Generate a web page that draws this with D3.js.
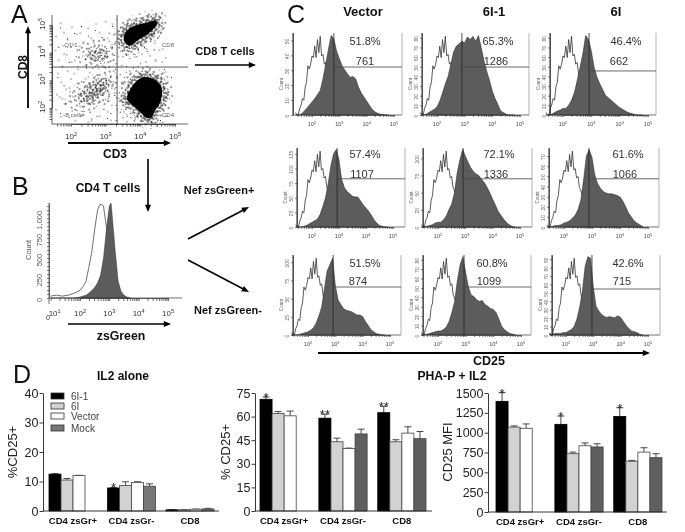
<!DOCTYPE html>
<html><head><meta charset="utf-8">
<script src="https://cdn.jsdelivr.net/npm/d3@7"></script>
<style>html,body{margin:0;padding:0;background:#fff}svg{display:block;filter:blur(0.35px)}text{font-family:"Liberation Sans",Arial,sans-serif}</style>
</head><body><svg id="c" width="685" height="532"></svg>
<script>
// ---------- Panel A: flow cytometry, log10 CD3 / log10 CD8 ----------
const cd8Blob=[[3.55,4.68],[3.65,4.84],[3.82,4.96],[4.18,5.08],[4.44,5.16],[4.48,5.04],[4.26,4.72],[3.94,4.46],[3.68,4.26],[3.54,4.4]];
const cd4Blob=[[4.09,3.12],[4.42,3.02],[4.62,2.71],[4.57,2.2],[4.42,1.9],[4.32,1.66],[4.18,1.64],[4.04,1.8],[3.82,2.05],[3.62,2.32],[3.7,2.65],[3.88,2.96]];
const backgroundRegion=[[1.5,5.2],[3.33,5.2],[4.6,5.3],[4.75,4.4],[4.8,3.5],[4.9,1.45],[1.5,1.45]];
const q1Outer=[[2.1,3.9],[2.4,4.4],[3.0,4.5],[3.3,4.1],[3.2,3.5],[2.5,3.45]];
const q1Core=[[2.45,3.9],[2.7,4.15],[3.0,4.1],[3.05,3.8],[2.7,3.65]];
const bOuter=[[1.8,2.1],[2.4,1.85],[3.0,2.1],[3.33,2.8],[3.2,3.4],[2.6,3.2],[2.05,2.75]];
const bCore=[[2.2,2.3],[2.6,2.15],[2.95,2.5],[3.15,3.0],[2.85,3.1],[2.4,2.75]];
const bInner=[[2.45,2.4],[2.7,2.4],[2.95,2.72],[2.9,2.95],[2.65,2.75]];
const sparseCells=[[1.7,4.9],[1.9,4.5],[2.1,4.7],[2.3,4.95],[2.5,4.6],[2.7,4.8],[2.9,4.55],[3.1,4.7],[3.2,4.95],[3.3,4.4],[1.65,4.2],[1.8,3.95],[2.0,4.2],[2.15,3.85],[2.25,4.1],[2.35,4.35],[2.42,3.75],[2.5,4.05],[2.55,3.65],[2.58,4.2],[2.62,3.9],[2.66,4.35],[2.7,4.05],[2.72,3.72],[2.75,3.95],[2.78,4.2],[2.8,3.8],[2.83,4.02],[2.86,3.62],[2.88,3.9],[2.9,4.25],[2.93,4.08],[2.96,3.78],[2.98,3.98],[3.02,4.15],[3.05,3.85],[3.1,4.05],[3.15,3.7],[3.2,4.2],[3.25,3.9],[3.3,3.6],[1.75,3.5],[1.95,3.65],[2.2,3.5],[2.45,3.45],[2.7,3.5],[3.0,3.45],[3.28,3.4],
[1.62,3.1],[1.8,2.8],[1.68,2.4],[1.85,2.15],[1.7,1.8],[1.95,1.65],[2.0,3.05],[2.05,2.55],[2.1,2.3],[2.12,1.95],[2.18,2.75],[2.22,2.5],[2.25,2.15],[2.28,1.7],[2.3,2.95],[2.33,2.62],[2.36,2.35],[2.38,2.05],[2.42,2.8],[2.44,2.52],[2.46,2.25],[2.48,2.68],[2.5,2.4],[2.52,2.9],[2.54,2.58],[2.56,2.12],[2.58,2.78],[2.6,2.46],[2.62,2.65],[2.64,2.3],[2.66,2.92],[2.68,2.55],[2.7,2.75],[2.72,2.4],[2.74,2.62],[2.76,2.9],[2.78,2.5],[2.8,2.72],[2.82,2.25],[2.84,2.6],[2.86,2.82],[2.88,3.05],[2.9,2.45],[2.92,2.68],[2.94,2.92],[2.96,2.55],[2.98,2.78],[3.0,2.3],[3.02,3.0],[3.05,2.65],[3.08,2.85],[3.1,2.5],[3.14,3.1],[3.18,2.72],[3.22,2.95],[3.26,2.45],[3.3,2.75],[3.32,3.15],[2.35,1.75],[2.55,1.85],[2.75,1.7],[2.95,1.95],[3.15,1.8],[3.3,2.1],[2.6,1.6],[3.05,1.62],
[3.42,4.9],[3.46,4.6],[3.4,4.3],[3.44,4.05],[3.5,3.85],[3.55,4.1],[3.6,3.9],[3.65,4.05],[3.7,3.8],[3.75,4.2],[3.8,3.95],[3.85,4.15],[3.9,3.85],[3.95,4.1],[4.0,4.3],[4.05,3.95],[4.12,4.2],[4.2,4.05],[4.3,4.4],[4.4,4.1],[4.55,4.6],[4.65,4.85],[3.6,3.5],[3.8,3.45],[4.0,3.6],[4.2,3.5],[4.45,3.7],[4.7,3.4],[4.9,3.1],
[3.42,3.2],[3.46,2.9],[3.4,2.55],[3.48,2.2],[3.42,1.85],[3.5,1.65],[3.55,3.1],[3.58,1.95],[3.62,1.7],[3.7,3.2],[3.72,1.8],[3.85,1.6],[3.95,3.3],[4.75,2.4],[4.8,2.0],[4.72,1.7],[4.58,1.55],[4.45,1.48],[3.3,1.55],[3.38,2.35]];
const axisLabelsA=["Q1-1","CD8","B cells","CD4"];
// stipple tiles (hand-placed dot offsets inside one tile)
const tileDense=[[1,2],[4,1],[7,3],[10,1],[13,2],[16,0],[18,3],[2,5],[5,6],[8,5],[11,7],[14,5],[17,6],[0,8],[3,9],[6,8],[9,10],[12,9],[15,8],[19,9],[1,12],[4,11],[7,13],[10,12],[13,11],[16,13],[18,11],[2,15],[5,14],[8,16],[11,15],[14,14],[17,16],[0,18],[3,17],[6,19],[9,18],[12,17],[15,19],[19,17]];
const tileMedium=[[2,1],[9,3],[15,2],[5,6],[12,7],[18,6],[1,10],[8,11],[14,12],[4,15],[11,16],[17,15],[7,19],[0,17],[19,11]];
const tileSparse=[[3,2],[15,5],[24,1],[8,11],[20,13],[1,17],[13,20],[26,19],[6,25],[18,26]];

// ---------- Panel B: zsGreen histograms ----------
const bLog=[1.0,1.2,1.4,1.6,1.8,2.0,2.1,2.2,2.3,2.4,2.5,2.6,2.7,2.8,2.9,3.0,3.06,3.1,3.2,3.3,3.4,3.5,3.6,3.7];
const bOpen=[.02,.03,.02,.03,.05,.08,.12,.17,.32,.48,.72,.93,.99,.97,.75,.5,.4,.3,.15,.06,.02,.01,0,0];
const bFilled=[0,0,0,0,0,.01,.02,.03,.05,.08,.11,.16,.24,.42,.72,.97,1,.86,.5,.18,.07,.03,.01,0];
const bTicks=[0,250,500,750,1000];

// ---------- Panel C: CD25 histograms ----------
const histLog=[1.4,1.5,1.6,1.7,1.8,1.9,2.0,2.1,2.2,2.3,2.4,2.5,2.6,2.7,2.8,2.9,3.0,3.1,3.2,3.3,3.4,3.5,3.6,3.7,3.8,3.9,4.0,4.1,4.2,4.3,4.4,4.5,4.6,4.7,4.8];
const isoLog=[1.4,1.45,1.5,1.55,1.6,1.65,1.7,1.75,1.8,1.85,1.9,1.95,2.0,2.05,2.1,2.15,2.2,2.25,2.3,2.35,2.4,2.45,2.5,2.55,2.6,2.7,2.8,2.9,3.0,3.1,3.2,3.3];
const isoCurve=[.03,0,0,.08,.12,.2,.18,.34,.4,.6,.56,.62,.72,.7,.84,.7,.92,.76,.96,.72,.74,.62,.64,.5,.46,.36,.26,.17,.1,.05,.02,0];
const histFilled=[
 [0,0,.01,.04,.08,.12,.16,.2,.25,.3,.44,.62,.8,.97,.93,.78,.69,.6,.55,.5,.46,.47,.44,.34,.27,.22,.17,.12,.07,.04,.02,.01,.005],
 [0,0,.01,.03,.05,.07,.1,.17,.27,.38,.47,.62,.77,.84,.87,.9,.88,.95,.92,.96,.9,.97,.82,.66,.53,.42,.29,.2,.13,.05,.03,.01],
 [0,0,.01,.03,.05,.06,.08,.08,.12,.18,.27,.42,.58,.75,.97,.92,.78,.58,.46,.38,.31,.24,.21,.18,.15,.12,.09,.07,.05,.03,.02,.01],
 [0,0,0,.01,.02,.04,.06,.08,.1,.16,.26,.37,.55,.78,.93,.98,.85,.6,.5,.45,.42,.39,.38,.38,.33,.28,.24,.2,.15,.09,.05,.02,.01],
 [0,0,.01,.02,.03,.05,.06,.06,.09,.14,.22,.29,.43,.68,.85,.98,.9,.82,.75,.7,.67,.65,.6,.56,.5,.43,.35,.28,.2,.15,.1,.06,.03,.01],
 [0,0,.01,.02,.02,.03,.05,.06,.08,.11,.15,.22,.34,.6,.9,.98,.88,.66,.55,.49,.45,.43,.42,.42,.41,.4,.38,.33,.26,.18,.13,.08,.05,.03,.01],
 [0,0,0,.01,.02,.03,.04,.06,.09,.15,.24,.35,.58,.8,.88,.96,.62,.44,.38,.33,.31,.3,.29,.27,.25,.25,.23,.17,.12,.07,.04,.02,.01],
 [0,0,.01,.02,.03,.04,.05,.05,.07,.1,.17,.28,.42,.68,.88,.98,.78,.6,.5,.48,.44,.42,.43,.38,.36,.33,.32,.28,.2,.11,.07,.04,.02,.01],
 [.01,.01,.02,.02,.02,.03,.03,.05,.07,.11,.2,.35,.55,.86,.98,.96,.6,.36,.3,.26,.23,.22,.23,.22,.22,.24,.22,.17,.12,.08,.05,.04,.03,.01]];
const percents=["51.8%","65.3%","46.4%","57.4%","72.1%","61.6%","51.5%","60.8%","42.6%"];
const mfis=["761","1286","662","1107","1336","1066","874","1099","715"];
const gateLog=[2.80,2.90,2.92,2.93,2.92,2.89,2.92,2.94,2.95];
const gateHeight=[.585,.585,.537,.61,.61,.61,.6,.6,.575];
const countMax=[55,85,85,135,115,78,110,85,95];
const countTicks=[[0,10,20,30,40,50],[0,10,20,30,40,50,60,70,80],[0,10,20,30,40,50,60,70,80],[0,25,50,75,100,125],[0,25,50,75,100],[0,10,20,30,40,50,60,70],[0,25,50,75,100],[0,10,20,30,40,50,60,70,80],[0,10,20,30,40,50,60,70,80,90]];
const columnTitles=["Vector","6I-1","6I"];

// ---------- Panel D: bars ----------
const groups=["CD4 zsGr+","CD4 zsGr-","CD8"];
const treatments=["6I-1","6I","Vector","Mock"];
const il2Values=[[12.5,10.5,12,null],[7.8,8.6,9.7,8.4],[.4,.4,.6,.7]];
const il2Errors=[[.15,.5,.1,0],[.2,1.3,.2,.8],[.05,.05,.05,.2]];
const phaValues=[[71,62,60.5,null],[59,44,39.7,49],[62.5,44,49.5,46]];
const phaErrors=[[1.5,1.2,3,0],[2.5,2.3,.3,3],[4,1.3,4,4.5]];
const mfiValues=[[1395,1070,1055,null],[1105,735,835,820],[1205,640,755,685]];
const mfiErrors=[[110,15,55,0],[105,20,35,40],[110,10,55,50]];
const il2Stars=["","*",""], phaStars=["*","**","**"], mfiStars=["*","*","*"];
const il2Ticks=[0,10,20,30,40], phaTicks=[0,15,30,45,60,75], mfiTicks=[0,250,500,750,1000,1250,1500];

// ---------- drawing ----------
const svg=d3.select("#c");
const defs=svg.append("defs");
function tile(id,dots,size,rot,r){
  const p=defs.append("pattern").attr("id",id).attr("patternUnits","userSpaceOnUse").attr("width",size).attr("height",size).attr("patternTransform",`rotate(${rot})`);
  p.selectAll("circle").data(dots).join("circle").attr("cx",d=>d[0]).attr("cy",d=>d[1]).attr("r",r).attr("fill","#000");
}
tile("dense",tileDense,20,17,.8);
tile("dense2",tileDense,20,-31,.8);
tile("medium",tileMedium,20,23,.75);
tile("medium2",tileMedium,20,-14,.75);
tile("sparse",tileSparse,28,11,.6);

function txt(x,y,s,o={}){
  const t=svg.append("text").attr("x",x).attr("y",y).text(s)
   .attr("font-size",o.size||10).attr("fill",o.fill||"#111")
   .attr("font-weight",o.bold?"bold":"normal").attr("text-anchor",o.anchor||"middle");
  if(o.rot!==undefined)t.attr("transform",`rotate(${o.rot} ${x} ${y})`);
  return t;
}
function arrow(x1,y1,x2,y2,w=1.6,h=6){
  const a=Math.atan2(y2-y1,x2-x1),L=h*1.2;
  svg.append("line").attr("x1",x1).attr("y1",y1).attr("x2",x2-Math.cos(a)*L*.8).attr("y2",y2-Math.sin(a)*L*.8).attr("stroke","#000").attr("stroke-width",w);
  const p=[[x2,y2],[x2-Math.cos(a)*L-Math.sin(a)*h/2,y2-Math.sin(a)*L+Math.cos(a)*h/2],[x2-Math.cos(a)*L+Math.sin(a)*h/2,y2-Math.sin(a)*L-Math.cos(a)*h/2]];
  svg.append("polygon").attr("points",p.join(" ")).attr("fill","#000");
}
function logTicks(lo,hi){const r=[];for(let d=Math.floor(lo);d<hi;d++)for(let k=1;k<10;k++){const v=d+Math.log10(k);if(v>=lo&&v<=hi)r.push(v);}return r;}
function supLabel(x,y,e,size,fill,rot){
  const t=svg.append("text").attr("x",x).attr("y",y).attr("font-size",size).attr("fill",fill).attr("text-anchor","middle");
  t.append("tspan").text("10");
  t.append("tspan").text(e).attr("font-size",size*.7).attr("dy",-size*.4);
  if(rot!==undefined)t.attr("transform",`rotate(${rot} ${x} ${y})`);
}
function styleAxis(g,color,w){g.selectAll("path,line").attr("stroke",color).attr("stroke-width",w);g.selectAll("text").remove();}

// Panel A
const ax=d3.scaleLinear().domain([2,5]).range([71,175]);
const ay=d3.scaleLinear().domain([2,5]).range([108,25]);
const aL=52,aR=188,aT=15,aB=124;
const aLine=d3.line().x(d=>ax(d[0])).y(d=>ay(d[1])).curve(d3.curveCatmullRomClosed);
const aPoly=d3.line().x(d=>ax(d[0])).y(d=>ay(d[1])).curve(d3.curveLinearClosed);
svg.append("path").attr("d",aPoly(backgroundRegion)).attr("fill","url(#sparse)");
svg.append("path").attr("d",aLine(q1Outer)).attr("fill","url(#medium)");
svg.append("path").attr("d",aLine(q1Core)).attr("fill","url(#dense2)");
svg.append("path").attr("d",aLine(bOuter)).attr("fill","url(#medium)");
svg.append("path").attr("d",aLine(bCore)).attr("fill","url(#dense)");
svg.append("path").attr("d",aLine(bInner)).attr("fill","url(#dense2)");
[cd8Blob,cd4Blob].forEach(c=>{
  svg.append("path").attr("d",aLine(c)).attr("fill","none").attr("stroke","url(#medium2)").attr("stroke-width",22);
  svg.append("path").attr("d",aLine(c)).attr("fill","none").attr("stroke","url(#dense2)").attr("stroke-width",13);
  svg.append("path").attr("d",aLine(c)).attr("fill","none").attr("stroke","url(#dense)").attr("stroke-width",7);
  svg.append("path").attr("d",aLine(c)).attr("fill","#000");
});
svg.append("g").selectAll("circle").data(sparseCells).join("circle").attr("cx",d=>ax(d[0])).attr("cy",d=>ay(d[1])).attr("r",.55).attr("fill","#111");
svg.append("rect").attr("x",aR+1).attr("y",0).attr("width",8).attr("height",130).attr("fill","#fff");
const axB=svg.append("g").attr("transform",`translate(0,${aB})`).call(d3.axisBottom(ax).tickValues(logTicks(1.6,5.3)).tickSize(2.5).tickSizeOuter(0));
styleAxis(axB,"#222",.7);
const ayL=svg.append("g").attr("transform",`translate(${aL},0)`).call(d3.axisLeft(ay).tickValues(logTicks(1.5,5.3)).tickSize(2.5).tickSizeOuter(0));
styleAxis(ayL,"#222",.7);
svg.append("line").attr("x1",aL).attr("x2",aR).attr("y1",aB).attr("y2",aB).attr("stroke","#222").attr("stroke-width",.7);
svg.append("line").attr("x1",aL).attr("x2",aL).attr("y1",aT).attr("y2",aB).attr("stroke","#222").attr("stroke-width",.7);
svg.append("line").attr("x1",ax(3.33)).attr("x2",ax(3.33)).attr("y1",aT).attr("y2",aB).attr("stroke","#333").attr("stroke-width",.8);
svg.append("line").attr("x1",aL).attr("x2",aR).attr("y1",ay(3.48)).attr("y2",ay(3.48)).attr("stroke","#333").attr("stroke-width",.8);
[2,3,4,5].forEach(e=>supLabel(ax(e),139,e,8,"#333"));
[2,3,4,5].forEach(e=>supLabel(45,ay(e)-1,e,8,"#333",-90));
txt(71,47,axisLabelsA[0],{size:6,fill:"#666"});txt(168,47,axisLabelsA[1],{size:6,fill:"#666"});
txt(74,117,axisLabelsA[2],{size:6,fill:"#666"});txt(168,117,axisLabelsA[3],{size:6,fill:"#666"});
txt(11,23,"A",{size:25,anchor:"start"});txt(12,195,"B",{size:25,anchor:"start"});txt(287,23,"C",{size:25,anchor:"start"});txt(13,383,"D",{size:25,anchor:"start"});
arrow(28,108,28,26,1.8,6);txt(27,67,"CD8",{bold:true,size:12,rot:-90});
arrow(68,143,171,143,1.8,6);txt(115,158,"CD3",{bold:true,size:12});
arrow(195,65,256,65,1.6,6);txt(225,55,"CD8 T cells",{bold:true,size:11});
arrow(148,159,148,212,1.6,6);

// Panel B
txt(108,192,"CD4 T cells",{bold:true,size:12});
txt(219,194,"Nef zsGreen+",{bold:true,size:11});txt(228,314,"Nef zsGreen-",{bold:true,size:11});
arrow(188,239,249,207,1.6,6);arrow(188,260,249,292,1.6,6);
arrow(68,324,171,324,1.6,6);txt(121,340,"zsGreen",{bold:true,size:12.3});
const bx=d3.scaleLinear().domain([2,5]).range([80,168]);
const by=d3.scaleLinear().domain([0,1]).range([298,203]);
const bCount=d3.scaleLinear().domain([0,1190]).range([298,203]);
const bArea=d3.area().x(d=>bx(d[0])).y0(298).y1(d=>by(d[1]));
svg.append("path").attr("d",d3.line().x(d=>bx(d[0])).y(d=>by(d[1]))(bLog.map((v,i)=>[v,bOpen[i]]))).attr("fill","none").attr("stroke","#333").attr("stroke-width",.7);
svg.append("path").attr("d",bArea(bLog.map((v,i)=>[v,bFilled[i]]))).attr("fill","#5c5c5c").attr("stroke","#222").attr("stroke-width",.4);
const bxa=svg.append("g").attr("transform","translate(0,298)").call(d3.axisBottom(bx).tickValues(logTicks(1,5.3)).tickSize(3).tickSizeOuter(0));styleAxis(bxa,"#333",.7);
svg.append("line").attr("x1",49).attr("x2",182).attr("y1",298).attr("y2",298).attr("stroke","#333").attr("stroke-width",.7);
const bya=svg.append("g").attr("transform","translate(49,0)").call(d3.axisLeft(bCount).tickValues(d3.range(0,1200,50)).tickSize(2).tickSizeOuter(0));styleAxis(bya,"#444",.7);
svg.append("line").attr("x1",49).attr("x2",49).attr("y1",203).attr("y2",304).attr("stroke","#333").attr("stroke-width",.7);
bTicks.forEach(v=>txt(42,bCount(v)+2,d3.format(",")(v),{size:7.5,fill:"#555",rot:-90}));
txt(31,250,"Count",{size:7.5,fill:"#555",rot:-90});
txt(48,320,"0",{size:7,fill:"#333"});
[1,2,3,4,5].forEach(e=>supLabel(bx(e)+(e==1?4:0),316,e,8,"#333"));

// Panel C
const panels=[
 {l:293,r:402,b:115,t:33,a:312,z:394},{l:422,r:529,b:115,t:33,a:437,z:520},{l:550,r:656,b:115,t:33,a:563,z:648},
 {l:297,r:405,b:227,t:148,a:312,z:393},{l:423,r:532,b:227,t:148,a:438,z:520},{l:549,r:659,b:227,t:148,a:564,z:648},
 {l:293,r:401,b:335,t:255,a:308,z:390},{l:423,r:531,b:335,t:255,a:438,z:521},{l:552,r:660,b:335,t:255,a:566,z:648}];
const pctPos=[365,498,626,365,499,628,365,492,628],mfiPos=[365,496,619,362,496,625,358,489,622];
const pctY=[45,45,45,158,158,158,267,267,267],mfiY=[65,65,65,178,178,178,285,285,285];
panels.forEach((p,i)=>{
  const x=d3.scaleLinear().domain([2,5]).range([p.a,p.z]);
  const y=d3.scaleLinear().domain([0,1]).range([p.b,p.t]);
  const cy=d3.scaleLinear().domain([0,countMax[i]]).range([p.b,p.t]);
  const g=svg.append("g");
  g.append("path").attr("d",d3.line().x(d=>x(d[0])).y(d=>y(d[1]))(isoLog.map((v,k)=>[v,isoCurve[k]]))).attr("fill","none").attr("stroke","#333").attr("stroke-width",.8);
  g.append("path").attr("d",d3.area().x(d=>x(d[0])).y0(p.b).y1(d=>y(d[1]))(histLog.map((v,k)=>[v,histFilled[i][k]||0]))).attr("fill","#5c5c5c").attr("stroke","#222").attr("stroke-width",.5);
  const xa=g.append("g").attr("transform",`translate(0,${p.b})`).call(d3.axisBottom(x).tickValues(logTicks(1.4,5.3)).tickSize(2).tickSizeOuter(0));styleAxis(xa,"#333",.6);
  g.append("line").attr("x1",p.l).attr("x2",p.r).attr("y1",p.b).attr("y2",p.b).attr("stroke","#333").attr("stroke-width",.7);
  const ya=g.append("g").attr("transform",`translate(${p.l},0)`).call(d3.axisLeft(cy).tickValues(countTicks[i]).tickSize(2).tickSizeOuter(0));styleAxis(ya,"#333",.6);
  g.append("line").attr("x1",p.l).attr("x2",p.l).attr("y1",p.t).attr("y2",p.b).attr("stroke","#222").attr("stroke-width",1);
  g.append("line").attr("x1",p.r).attr("x2",p.r).attr("y1",p.t).attr("y2",p.b).attr("stroke","#aaa").attr("stroke-width",.9);
  g.append("line").attr("x1",x(gateLog[i])).attr("x2",x(gateLog[i])).attr("y1",p.t).attr("y2",p.b).attr("stroke","#222").attr("stroke-width",.8);
  g.append("line").attr("x1",x(gateLog[i])).attr("x2",p.r).attr("y1",y(gateHeight[i])).attr("y2",y(gateHeight[i])).attr("stroke","#444").attr("stroke-width",.8);
  countTicks[i].forEach(v=>txt(p.l-4,cy(v)+1,v,{size:5,fill:"#666",rot:-90}));
  txt(p.l-10,(p.t+p.b)/2+10,"Count",{size:4.5,fill:"#666",rot:-90});
  [2,3,4,5].forEach(e=>supLabel(x(e),p.b+11,e,5.5,"#444"));
  txt(pctPos[i],pctY[i],percents[i],{size:11,fill:"#333"});
  txt(mfiPos[i],mfiY[i],mfis[i],{size:11,fill:"#333"});
});
columnTitles.forEach((s,i)=>txt([363,494,616][i],15.5,s,{bold:true,size:13}));
arrow(318,353,650,353,2,6);
txt(489,365,"CD25",{bold:true,size:12.5});

// Panel D
const barColors=d3.scaleOrdinal().domain(treatments).range(["#000","#d2d2d2","#fff","#5f5f5f"]);
function barChart(o){
  const x0=d3.scaleBand().domain(groups).range([o.x1,o.x2]).paddingInner(.18);
  const x1=d3.scaleBand().domain(treatments).range([0,x0.bandwidth()]);
  const y=d3.scaleLinear().domain([0,o.ticks[o.ticks.length-1]]).range([o.bottom,393]);
  const g=svg.append("g");
  groups.forEach((gr,gi)=>treatments.forEach((tr,ti)=>{
    const v=o.values[gi][ti]; if(v===null)return;
    const bx=x0(gr)+x1(tr), w=x1.bandwidth(), top=y(v), et=y(v+o.errors[gi][ti]), c=bx+w/2;
    g.append("line").attr("x1",c).attr("x2",c).attr("y1",top).attr("y2",et).attr("stroke","#333").attr("stroke-width",.9);
    g.append("line").attr("x1",c-3.5).attr("x2",c+3.5).attr("y1",et).attr("y2",et).attr("stroke","#333").attr("stroke-width",.9);
    g.append("rect").attr("x",bx).attr("y",top).attr("width",w).attr("height",o.bottom-top).attr("fill",(tr=="Mock"&&o.mockFill)||barColors(tr)).attr("stroke",tr=="6I-1"?"#000":"#444").attr("stroke-width",.8);
  }));
  groups.forEach((gr,gi)=>{
    if(o.stars[gi]){
      const t=y(o.values[gi][0]+o.errors[gi][0]);
      txt(x0(gr)+x1("6I-1")+x1.bandwidth()/2,t+5,o.stars[gi],{size:13,fill:"#222"});
    }
    txt(x0(gr)+x0.bandwidth()/2,o.bottom+13,gr,{bold:true,size:9.5});
  });
  const ya=g.append("g").attr("transform",`translate(${o.axisX},0)`).call(d3.axisLeft(y).tickValues(o.ticks).tickFormat(d3.format("d")).tickSize(3.5).tickSizeOuter(0));
  ya.selectAll("path,line").attr("stroke","#222").attr("stroke-width",.9);
  ya.selectAll("text").attr("font-size",12.5).attr("fill","#222").attr("font-family",'"Liberation Sans",Arial,sans-serif').attr("dx",2);
  g.append("line").attr("x1",o.axisX).attr("x2",o.axisEnd).attr("y1",o.bottom).attr("y2",o.bottom).attr("stroke","#222").attr("stroke-width",.9);
  txt(o.labelX,452,o.label,{size:13,fill:"#222",rot:-90});
}
barChart({values:il2Values,errors:il2Errors,stars:il2Stars,ticks:il2Ticks,x1:49,x2:214,bottom:511,axisX:43,axisEnd:219,label:"%CD25+",labelX:17,mockFill:"#777"});
barChart({values:phaValues,errors:phaErrors,stars:phaStars,ticks:phaTicks,x1:260,x2:426,bottom:511,axisX:255,axisEnd:432,label:"% CD25+",labelX:230});
barChart({values:mfiValues,errors:mfiErrors,stars:mfiStars,ticks:mfiTicks,x1:496,x2:662,bottom:512,axisX:488,axisEnd:667,label:"CD25 MFI",labelX:452});
txt(123,380,"IL2 alone",{bold:true,size:12});
txt(452,380,"PHA-P + IL2",{bold:true,size:12.2});
treatments.forEach((t,i)=>{
  const ly=[396,406,416,428][i];
  svg.append("rect").attr("x",51).attr("y",ly-3).attr("width",13).attr("height",6).attr("fill",t=="Mock"?"#777":barColors(t)).attr("stroke","#333").attr("stroke-width",.8);
  txt(71,ly+3.5,t,{size:10,fill:"#444",anchor:"start"});
});
</script></body></html>
